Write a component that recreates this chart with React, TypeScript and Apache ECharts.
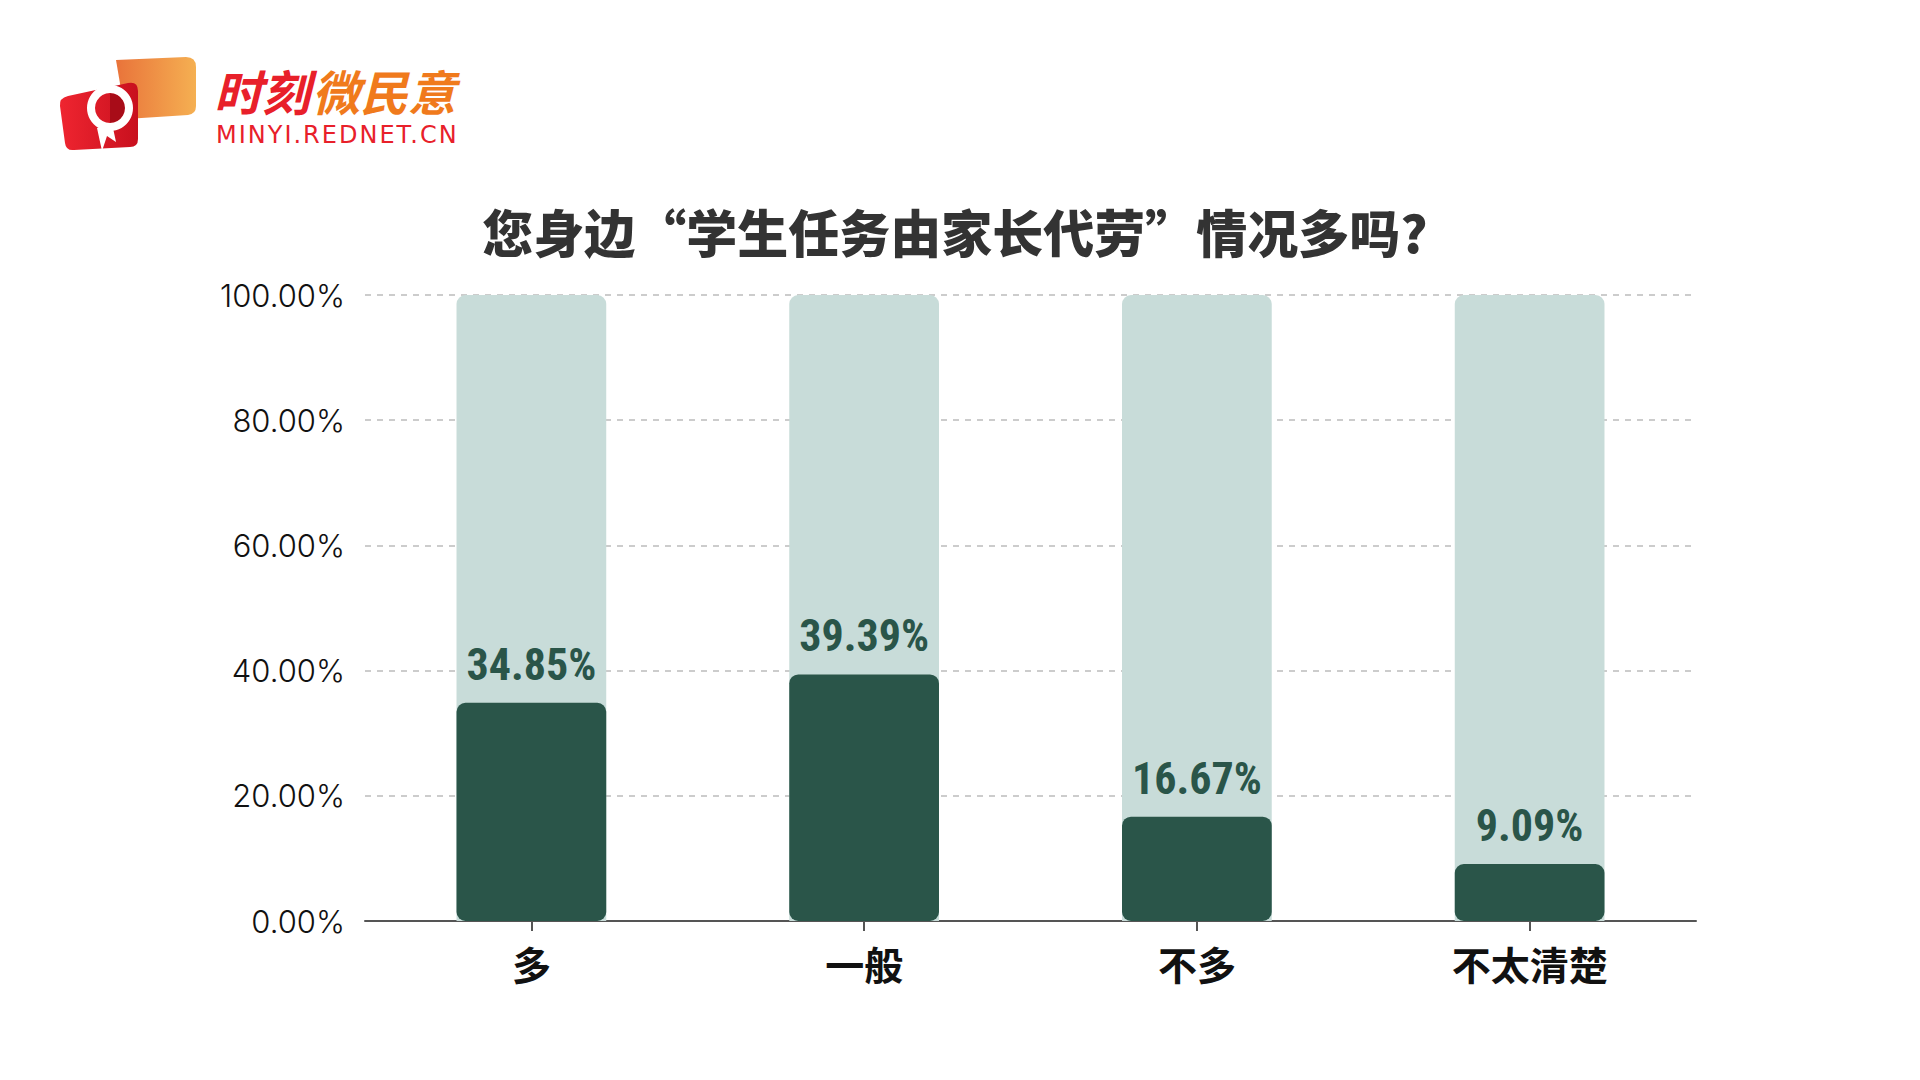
import React, { useEffect, useRef } from "react";
import * as echarts from "echarts";

const categories = ["多", "一般", "不多", "不太清楚"];
const values = [34.85, 39.39, 16.67, 9.09];
const yTicks = [0, 20, 40, 60, 80, 100];
const titleText = "您身边“学生任务由家长代劳”情况多吗?";
const brandCn1 = "时刻";
const brandCn2 = "微民意";
const brandUrl = "MINYI.REDNET.CN";

const redBubble =
  "M68,96 L128,83 Q138,81 138,91 L138,139 Q138,147 130,147 L74,150 Q66,151 65,143 L60,106 Q59,98 68,96 Z";
const orangeBubble =
  "M116,60 L186,57 Q196,57 196,67 L196,106 Q196,114 188,115 L126,119 Z";
const handle = "M97,128 L113,128 L116,142 L107,136 L102,151 Z";

const narrowFont = "'Roboto';font-stretch:75%";

export default function App() {
  const ref = useRef<HTMLDivElement>(null);
  useEffect(() => {
    if (!ref.current) return;
    echarts.graphic.registerShape("redBubble", echarts.graphic.extendPath(redBubble, {}));
    echarts.graphic.registerShape("orangeBubble", echarts.graphic.extendPath(orangeBubble, {}));
    echarts.graphic.registerShape("logoHandle", echarts.graphic.extendPath(handle, {}));
    const chart = echarts.init(ref.current, null, { renderer: "svg" });
    chart.setOption({
      animation: false,
      backgroundColor: "#ffffff",
      title: {
        text: titleText,
        left: 950,
        top: 200,
        textAlign: "center",
        textStyle: {
          fontFamily: "Noto Sans CJK SC",
          fontWeight: 900,
          fontSize: 51,
          color: "#333333",
        },
      },
      grid: { left: 365, right: 224, top: 295, bottom: 159, containLabel: false },
      xAxis: {
        type: "category",
        data: categories,
        axisLine: { lineStyle: { color: "#555555", width: 2 } },
        axisTick: { show: true, alignWithLabel: true, length: 10, lineStyle: { color: "#555555", width: 2 } },
        axisLabel: {
          margin: 22,
          fontFamily: "Noto Sans CJK SC",
          fontWeight: "bold",
          fontSize: 39,
          color: "#111111",
        },
      },
      yAxis: {
        type: "value",
        min: 0,
        max: 100,
        interval: 20,
        axisLine: { show: false },
        axisTick: { show: false },
        axisLabel: {
          margin: 20,
          fontFamily: "Inter",
          fontWeight: 300,
          fontSize: 31,
          color: "#111111",
          formatter: (v: number) => (yTicks.includes(v) ? v.toFixed(2) + "%" : ""),
        },
        splitLine: { lineStyle: { color: "#cccccc", type: [6, 6], width: 2 } },
      },
      series: [
        {
          type: "bar",
          data: values,
          barWidth: "45%",
          showBackground: true,
          backgroundStyle: { color: "#c8dcd9", borderRadius: [9, 9, 0, 0] },
          itemStyle: { color: "#2a5549", borderRadius: 9 },
          label: {
            show: true,
            position: "top",
            distance: 14,
            fontFamily: narrowFont,
            fontWeight: "bold",
            fontSize: 44,
            color: "#2a5549",
            formatter: (p: any) => p.value.toFixed(2) + "%",
          },
        },
      ],
      graphic: [
        {
          type: "orangeBubble",
          x: 0,
          y: 0,
          style: {
            fill: new echarts.graphic.LinearGradient(0, 0, 1, 0, [
              { offset: 0, color: "#e9733a" },
              { offset: 1, color: "#f5b052" },
            ]),
          },
        },
        {
          type: "redBubble",
          x: 0,
          y: 0,
          style: {
            fill: new echarts.graphic.LinearGradient(0, 0, 1, 0, [
              { offset: 0, color: "#ef2530" },
              { offset: 1, color: "#c8101e" },
            ]),
          },
        },
        {
          type: "sector",
          shape: { cx: 110, cy: 108, r: 15, r0: 0, startAngle: -Math.PI / 2, endAngle: Math.PI / 2 },
          style: { fill: "#a80c18" },
        },
        {
          type: "logoHandle",
          x: 0,
          y: 0,
          style: { fill: "#ffffff" },
        },
        {
          type: "ring",
          shape: { cx: 110, cy: 108, r: 23, r0: 15 },
          style: { fill: "#ffffff" },
        },
        {
          type: "text",
          x: 214,
          y: 66,
          style: {
            text: brandCn1,
            fontFamily: "Noto Sans CJK SC",
            fontWeight: "bold",
            fontStyle: "italic",
            fontSize: 48,
            fill: "#e8202a",
          },
        },
        {
          type: "text",
          x: 312,
          y: 66,
          style: {
            text: brandCn2,
            fontFamily: "Noto Sans CJK SC",
            fontWeight: "bold",
            fontStyle: "italic",
            fontSize: 48,
            fill: "#f07a1c",
          },
        },
        {
          type: "text",
          x: 216,
          y: 111,
          style: {
            text: brandUrl,
            fontFamily: "'DejaVu Sans';letter-spacing:2px",
            fontSize: 24,
            fill: "#e8202a",
          },
        },
      ],
    });
    return () => chart.dispose();
  }, []);
  return (
    <div
      ref={ref}
      style={{ position: "absolute", left: 0, top: 0, width: 1920, height: 1080 }}
    />
  );
}
